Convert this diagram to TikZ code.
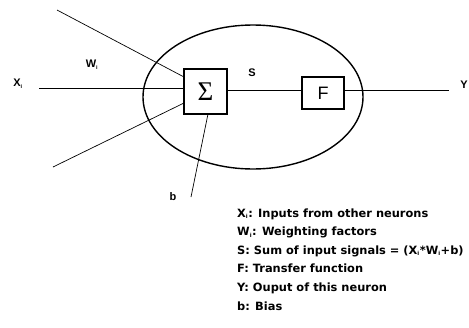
\documentclass[tikz,border=0pt]{standalone}
\usepackage{fontspec}
\setmainfont{Liberation Sans}
\newfontfamily\serifsig{Liberation Serif}
\newfontfamily\legfont{DejaVu Sans}
\newcommand{\sbi}{\textsubscript{\fontsize{5.5}{5.5}\selectfont i}}
\tikzset{
  lbl/.style={font=\bfseries\fontsize{11}{12}\selectfont, inner sep=0pt},
  boxed/.style={draw, line width=1.4pt, inner sep=0pt},
  wire/.style={line width=0.7pt},
  leg/.style={font=\legfont\bfseries\fontsize{11.4}{12}\selectfont, inner sep=0pt, anchor=base west}
}
\begin{document}
\begin{tikzpicture}[x=1pt,y=-1pt]
\useasboundingbox (0,0) rectangle (469,327);
\draw[line width=1.4pt] (253,97) ellipse [x radius=110, y radius=72];
\node[boxed, minimum width=43pt, minimum height=45pt] (sum) at (205.5,91.5) {\serifsig\fontsize{27}{27}\selectfont Σ};
\node[boxed, minimum width=42pt, minimum height=32pt] (F) at (323,93) {\fontsize{18}{18}\selectfont F};
\coordinate (xin) at (39,88);
\coordinate (tin) at (57,10);
\coordinate (bin) at (53,167);
\coordinate (bias) at (191,197);
\coordinate (yout) at (449,90);
\draw[wire] (xin) -- (xin -| sum.west);
\draw[wire] (tin) -- (184,77);
\draw[wire] (bin) -- (184,103);
\draw[wire] (bias) -- (208,114);
\draw[wire] (sum.east |- 0,90) -- (F.west |- 0,90);
\draw[wire] (F.east |- 0,90) -- (yout);
\node[lbl] (xl) at (18,84) {X\sbi};
\node[lbl] (wl) at (92,65) {W\sbi};
\node[lbl] (sl) at (252,73) {S};
\node[lbl] (yl) at (464,85) {Y};
\node[lbl] (bl) at (173,197) {b};
\node[leg] (l1) at (237,217) {X\sbi: Inputs from other neurons};
\node[leg] (l2) at (237,235.6) {W\sbi: Weighting factors};
\node[leg] (l3) at (237,254.2) {S: Sum of input signals = (X\sbi*W\sbi+b)};
\node[leg] (l4) at (237,272.8) {F: Transfer function};
\node[leg] (l5) at (237,291.4) {Y: Ouput of this neuron};
\node[leg] (l6) at (237,310) {b: Bias};
\end{tikzpicture}
\end{document}
